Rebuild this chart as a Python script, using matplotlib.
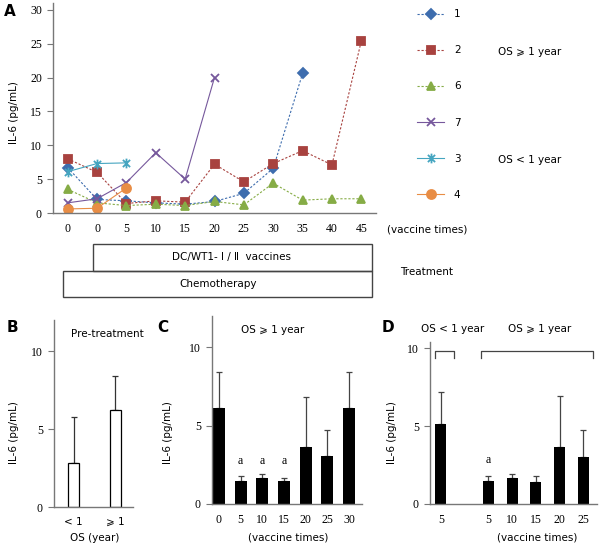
import numpy as np
import matplotlib
matplotlib.use("Agg")
import matplotlib.pyplot as plt
from matplotlib.path import Path
from matplotlib.patches import Rectangle

W, H = 600, 547

def box(l, t, r, b):
    # pixel box -> figure fraction [left, bottom, width, height]
    return [l / W, 1 - b / H, (r - l) / W, (b - t) / H]

SANS = ["DejaVu Sans", "Noto Sans CJK SC"]
SERIF = "Liberation Serif"
GE = "\u2a7e"
FS = 7.5

# ── Panel A data: IL-6 per patient over vaccine times ─────────────────────────
a_ticks = ["0", "0", "5", "10", "15", "20", "25", "30", "35", "40", "45"]
p1 = [6.7, 2.0, 1.8, 1.5, 1.3, 1.7, 2.9, 6.6, 20.6]
p2 = [8.0, 6.0, 1.4, 1.8, 1.6, 7.2, 4.6, 7.3, 9.2, 7.1, 25.4]
p6 = [3.5, 1.5, 1.1, 1.3, 1.1, 1.7, 1.2, 4.4, 1.9, 2.1, 2.1]
p7 = [1.5, 2.1, 4.5, 8.9, 5.0, 20.0]
p3 = [6.1, 7.3, 7.4]
p4 = [0.6, 0.7, 3.7]

# ── Panel B ───────────────────────────────────────────────────────────────────
b_labels = ["< 1", GE + " 1"]
b_mean = [2.8, 6.2]
b_err = [3.0, 2.2]

# ── Panel C ───────────────────────────────────────────────────────────────────
c_labels = ["0", "5", "10", "15", "20", "25", "30"]
c_mean = [6.15, 1.47, 1.68, 1.47, 3.65, 3.05, 6.15]
c_err = [2.3, 0.33, 0.22, 0.21, 3.2, 1.67, 2.3]
c_sig = ["", "a", "a", "a", "", "", ""]

# ── Panel D ───────────────────────────────────────────────────────────────────
d_pos = [0, 2, 3, 4, 5, 6]
d_labels = ["5", "5", "10", "15", "20", "25"]
d_mean = [5.15, 1.5, 1.7, 1.43, 3.65, 3.0]
d_err = [2.05, 0.32, 0.2, 0.34, 3.27, 1.72]
d_sig = ["", "a", "", "", "", ""]

AXC = "#777777"

fig = plt.figure(figsize=(6, 5.47), dpi=100)

def style(ax):
    for s in ["top", "right"]:
        ax.spines[s].set_visible(False)
    for s in ["left", "bottom"]:
        ax.spines[s].set_color(AXC)
        ax.spines[s].set_linewidth(1)
    ax.tick_params(axis="y", length=4, width=0.8, color=AXC, pad=4,
                   labelsize=8.5)
    ax.tick_params(axis="x", length=0, pad=7, labelsize=8.5)
    for t in ax.get_xticklabels() + ax.get_yticklabels():
        t.set_family(SERIF)

def ylab(ax, xpos, ypos):
    ax.set_ylabel("IL-6 (pg/mL)", fontsize=FS, family=SANS)
    ax.yaxis.set_label_coords(xpos, ypos)

def txt(x, y, s, ha="center"):
    fig.text(x / W, 1 - y / H, s, fontsize=FS, family=SANS, ha=ha,
             va="center")

# ── Panel A ───────────────────────────────────────────────────────────────────
axA = fig.add_axes(box(53, 3, 376, 213))
star = Path([(-1, -1), (1, 1), (-1, 1), (1, -1), (0, -1.35), (0, 1.35)],
            [Path.MOVETO, Path.LINETO, Path.MOVETO, Path.LINETO,
             Path.MOVETO, Path.LINETO])
dot = (0, (2, 1.6))
series = [
    ("1", p1, "#3E6DAE", "D", dot, 5),
    ("2", p2, "#A8423F", "s", dot, 6),
    ("6", p6, "#86AC46", "^", dot, 6),
    ("7", p7, "#76589C", "x", "-", 6),
    ("3", p3, "#45A5C0", star, "-", 7),
    ("4", p4, "#E88D45", "o", "-", 6.5),
]
handles = []
for name, vals, col, mk, ls, ms in series:
    x = np.arange(len(vals))
    ln, = axA.plot(x, vals, color=col, linestyle=ls, linewidth=0.8,
                   marker=mk, markersize=ms, markeredgewidth=1.3,
                   markerfacecolor=col, markeredgecolor=col, label=name)
    handles.append(ln)
axA.set_xlim(-0.5, 10.5)
axA.set_ylim(0, 31)
axA.set_yticks(range(0, 31, 5))
axA.set_xticks(range(len(a_ticks)))
axA.set_xticklabels(a_ticks)
style(axA)
ylab(axA, -0.105, 0.48)

fig.legend(handles, [h.get_label() for h in handles], loc="upper left",
           bbox_to_anchor=(408 / W, 1 - 0 / H), frameon=False,
           handlelength=2.6, handletextpad=0.9, labelspacing=2.5,
           prop={"family": "DejaVu Sans", "size": FS})
txt(498, 52, "OS " + GE + " 1 year", ha="left")
txt(498, 160, "OS < 1 year", ha="left")
txt(427, 230, "(vaccine times)")

# treatment boxes
fig.patches.append(Rectangle((93 / W, 1 - 271 / H), 279 / W, 27 / H,
                             transform=fig.transFigure, fill=False,
                             edgecolor="#444444", linewidth=1))
fig.patches.append(Rectangle((63 / W, 1 - 297 / H), 309 / W, 26 / H,
                             transform=fig.transFigure, fill=False,
                             edgecolor="#444444", linewidth=1))
txt(232, 257, "DC/WT1- \u2160 / \u2161  vaccines")
txt(218, 284, "Chemotherapy")
txt(427, 272, "Treatment")

# ── Panel B ───────────────────────────────────────────────────────────────────
axB = fig.add_axes(box(54, 320, 133, 507))
xb = np.arange(len(b_mean))
axB.bar(xb, b_mean, width=0.27, color="white", edgecolor="black",
        linewidth=0.9, zorder=2)
axB.errorbar(xb, b_mean, yerr=[np.zeros(len(b_err)), b_err], fmt="none",
             ecolor="#333333", elinewidth=0.9, capsize=2.5, capthick=0.9,
             zorder=1)
axB.set_xlim(-0.47, 1.43)
axB.set_ylim(0, 12)
axB.set_yticks([0, 5, 10])
axB.set_xticks(xb)
axB.set_xticklabels(b_labels)
style(axB)
for t in axB.get_xticklabels():
    t.set_family(SANS)
    t.set_fontsize(FS)
ylab(axB, -0.44, 0.4)
axB.text(0.67, 0.925, "Pre-treatment", transform=axB.transAxes,
         fontsize=FS, family=SANS, ha="center", va="center")
txt(95, 538, "OS (year)")

# ── Panel C ───────────────────────────────────────────────────────────────────
axC = fig.add_axes(box(212, 316, 362, 504))
xc = np.arange(len(c_mean))
axC.bar(xc, c_mean, width=0.55, color="black", zorder=2)
axC.errorbar(xc, c_mean, yerr=[np.zeros(len(c_err)), c_err], fmt="none",
             ecolor="#444444", elinewidth=0.9, capsize=2.5, capthick=0.9,
             zorder=1)
for xi, s in zip(xc, c_sig):
    if s:
        axC.text(xi, 2.75, s, ha="center", va="center", fontsize=8.5,
                 family=SERIF)
axC.set_xlim(-0.32, 6.6)
axC.set_ylim(0, 12)
axC.set_yticks([0, 5, 10])
axC.set_xticks(xc)
axC.set_xticklabels(c_labels)
style(axC)
ylab(axC, -0.26, 0.38)
txt(273, 330, "OS " + GE + " 1 year")
txt(288, 538, "(vaccine times)")

# ── Panel D ───────────────────────────────────────────────────────────────────
axD = fig.add_axes(box(430, 342, 597, 504))
axD.bar(d_pos, d_mean, width=0.46, color="black", zorder=2)
axD.errorbar(d_pos, d_mean, yerr=[np.zeros(len(d_err)), d_err], fmt="none",
             ecolor="#444444", elinewidth=0.9, capsize=2.5, capthick=0.9,
             zorder=1)
for xi, s in zip(d_pos, d_sig):
    if s:
        axD.text(xi, 2.8, s, ha="center", va="center", fontsize=8.5,
                 family=SERIF)
axD.set_xlim(-0.46, 6.58)
axD.set_ylim(0, 10.4)
axD.set_yticks([0, 5, 10])
axD.set_xticks(d_pos)
axD.set_xticklabels(d_labels)
style(axD)
ylab(axD, -0.2, 0.44)
# group brackets
for x0, x1 in [(-0.25, 0.55), (1.69, 6.4)]:
    axD.plot([x0, x0, x1, x1], [9.35, 9.8, 9.8, 9.35], color="#444444",
             linewidth=0.9, clip_on=False)
txt(453, 329, "OS < 1 year")
txt(540, 329, "OS " + GE + " 1 year")
txt(537, 538, "(vaccine times)")

# panel letters
for lx, ly, s in [(10, 11, "A"), (12, 327, "B"), (163, 327, "C"),
                  (388, 327, "D")]:
    fig.text(lx / W, 1 - ly / H, s, fontsize=11, fontweight="bold",
             family=SANS, ha="center", va="center")

fig.savefig("out.png", dpi=100, facecolor="white")
